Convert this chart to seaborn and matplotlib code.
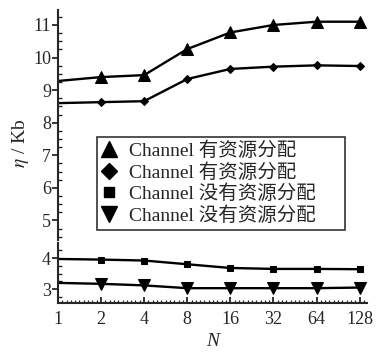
import numpy as np
import pandas as pd
import matplotlib
matplotlib.use("Agg")
import matplotlib.pyplot as plt
import seaborn as sns
from matplotlib.lines import Line2D
from matplotlib.ticker import FixedLocator, MultipleLocator, NullFormatter

# données
N = [1, 2, 4, 8, 16, 32, 64, 128]
tri_haut = [9.28, 9.40, 9.46, 10.26, 10.77, 11.00, 11.10, 11.10]
losange = [8.60, 8.63, 8.66, 9.34, 9.65, 9.72, 9.76, 9.74]
carre = [3.97, 3.95, 3.92, 3.80, 3.68, 3.65, 3.65, 3.64]
tri_bas = [3.20, 3.17, 3.12, 3.03, 3.03, 3.03, 3.03, 3.05]
labels = ["Channel 有资源分配", "Channel 有资源分配", "Channel 没有资源分配", "Channel 没有资源分配"]

sns.set_style("ticks")
plt.rcParams['font.family'] = ['Liberation Serif', 'Noto Sans CJK SC']
plt.rcParams['mathtext.fontset'] = 'stix'

fig = plt.figure(figsize=(3.76, 3.57), dpi=100)
ax_top = fig.add_axes([0.154, 0.328, 0.822, 0.644])
ax_bot = fig.add_axes([0.154, 0.151, 0.822, 0.168])

series = [(tri_haut, '^', 8.5), (losange, 'D', 4.5), (carre, 's', 4.5), (tri_bas, 'v', 8.5)]
for i, (vals, m, ms) in enumerate(series):
    ax = ax_top if i < 2 else ax_bot
    sns.lineplot(x=N, y=vals, ax=ax, color='black', lw=1.7, marker=m, markersize=ms,
                 markevery=slice(1, None), markeredgecolor='black')

for ax in (ax_top, ax_bot):
    ax.set_xscale('log', base=2)
    ax.set_xlim(1, 2 ** 7.17)
    sns.despine(ax=ax)
    ax.yaxis.set_minor_locator(MultipleLocator(0.25))
    ax.tick_params(axis='y', which='major', direction='out', length=4, width=1.3, labelsize=13, pad=1)
    ax.tick_params(axis='y', which='minor', direction='in', length=3, width=1)
    ax.spines['left'].set_linewidth(1.5)
    ax.set_ylabel('')

ax_top.set_ylim(4.4, 11.46)
ax_top.set_yticks([5, 6, 7, 8, 9, 10, 11])
ax_top.spines['bottom'].set_visible(False)
ax_top.tick_params(axis='x', which='both', bottom=False, labelbottom=False)

ax_bot.set_ylim(2.55, 4.48)
ax_bot.set_yticks([3, 4])
ax_bot.spines['bottom'].set_linewidth(1.5)
ax_bot.set_xticks(N)
ax_bot.set_xticklabels([str(n) for n in N])
ax_bot.xaxis.set_minor_locator(FixedLocator(2 ** np.arange(0, 7.17, 0.1)))
ax_bot.xaxis.set_minor_formatter(NullFormatter())
ax_bot.tick_params(axis='x', which='major', direction='in', length=4.5, width=1.3, labelsize=13, pad=6)
ax_bot.tick_params(axis='x', which='minor', direction='in', length=2.5, width=0.9)
ax_bot.set_xlabel('N', fontsize=14, style='italic', labelpad=3)

handles = [Line2D([], [], color='black', lw=0, marker=m, markersize=s)
           for m, s in [('^', 11), ('D', 8.5), ('s', 7), ('v', 11)]]
leg = ax_top.legend(handles, labels, loc='upper left', bbox_to_anchor=(0.126, 0.0, 0.803, 0.448),
                    mode='expand', fontsize=14, frameon=True, fancybox=False, edgecolor='black',
                    handlelength=0.8, handletextpad=0.6, borderpad=0.25, labelspacing=0.15,
                    borderaxespad=0)
leg.get_frame().set_linewidth(1.2)

fig.text(0.055, 0.6, r'$\eta$ / Kb', rotation=90, ha='center', va='center', fontsize=14)

fig.savefig('out.png', dpi=100)
